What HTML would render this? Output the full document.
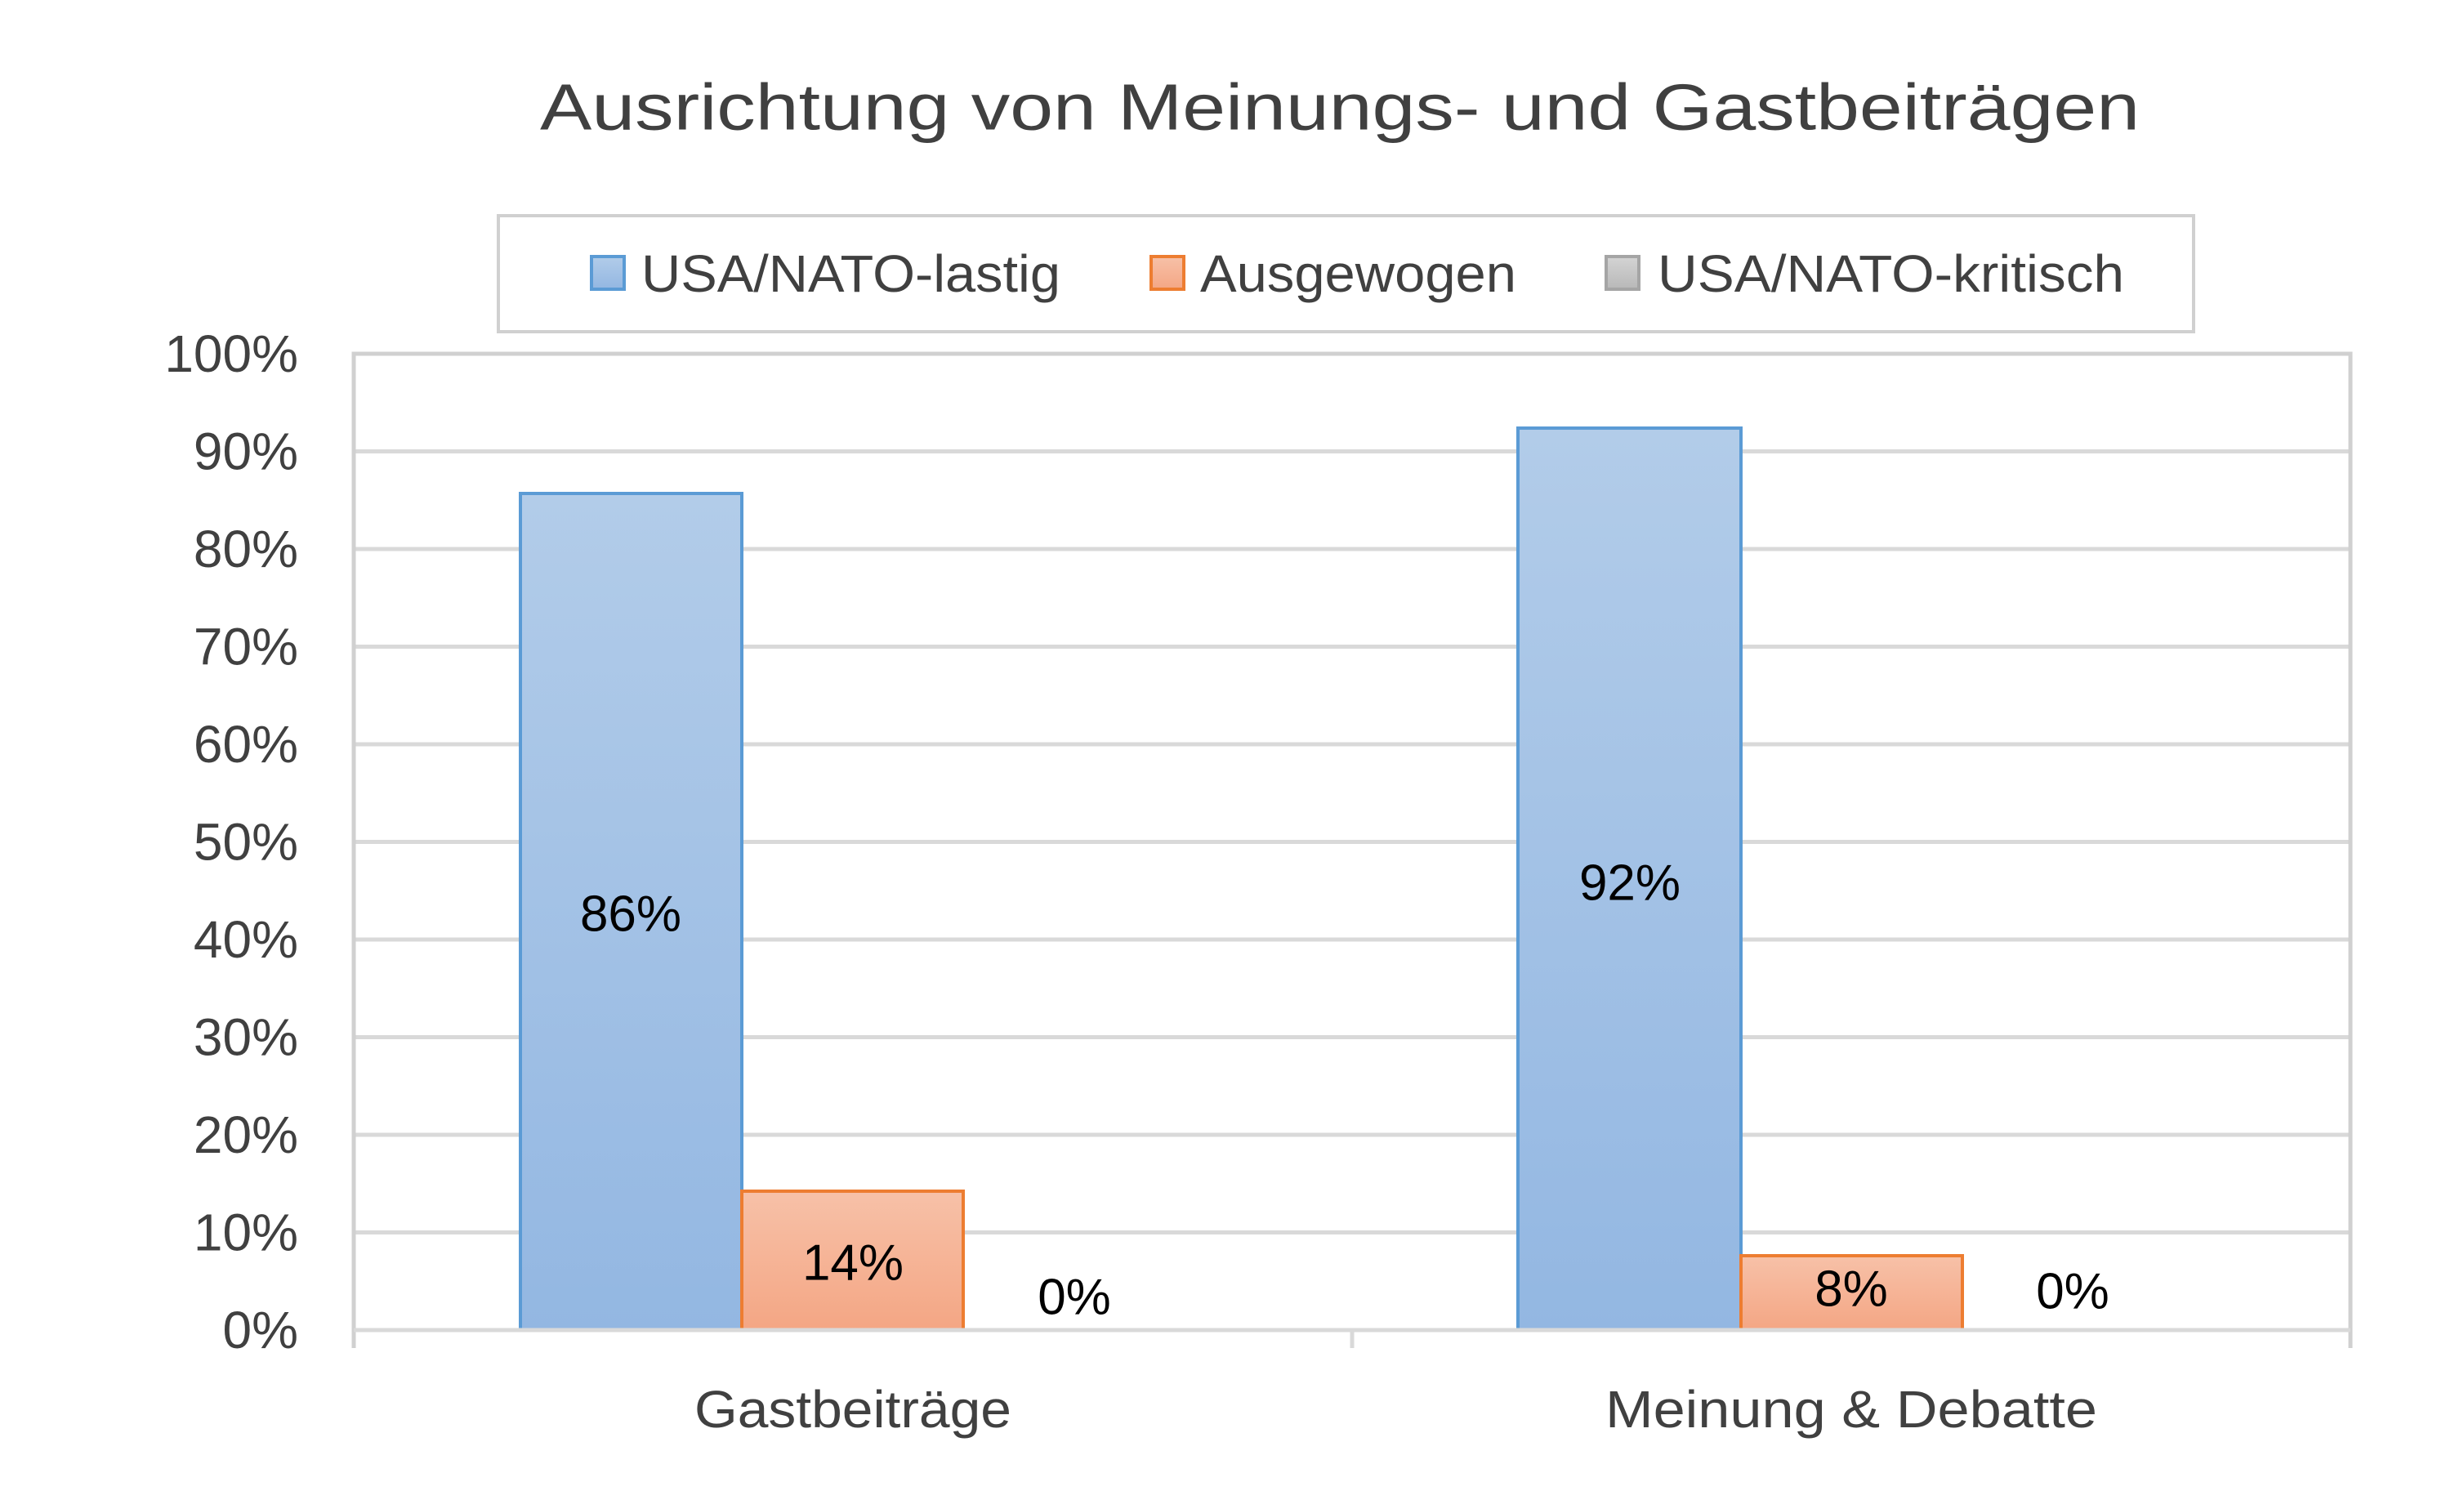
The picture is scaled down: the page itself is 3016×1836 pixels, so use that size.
<!DOCTYPE html>
<html><head><meta charset="utf-8"><style>
html,body{margin:0;padding:0;background:#fff}
svg{display:block}
text{font-family:"Liberation Sans",sans-serif}
</style></head><body>
<svg width="3016" height="1836" viewBox="0 0 3016 1836" xmlns="http://www.w3.org/2000/svg">
<defs>
<linearGradient id="gb" x1="0" y1="0" x2="0" y2="1"><stop offset="0" stop-color="#b2cce9"/><stop offset="1" stop-color="#93b7e2"/></linearGradient>
<linearGradient id="go" x1="0" y1="0" x2="0" y2="1"><stop offset="0" stop-color="#f7c1a8"/><stop offset="1" stop-color="#f4a684"/></linearGradient>
<linearGradient id="gg" x1="0" y1="0" x2="0" y2="1"><stop offset="0" stop-color="#d4d4d4"/><stop offset="1" stop-color="#b8b8b8"/></linearGradient>
</defs>
<rect width="3016" height="1836" fill="#fff"/>
<text x="1640" y="131" font-size="80" fill="#404040" text-anchor="middle" dominant-baseline="central" textLength="1958" lengthAdjust="spacingAndGlyphs">Ausrichtung von Meinungs- und Gastbeiträgen</text>
<!-- legend -->
<rect x="610" y="264" width="2075" height="142" fill="#fff" stroke="#d0d0d0" stroke-width="4"/>
<rect x="724" y="314" width="40" height="40" fill="url(#gb)" stroke="#5b9bd5" stroke-width="4"/>
<text x="785" y="335" font-size="64" fill="#404040" dominant-baseline="central" textLength="513" lengthAdjust="spacingAndGlyphs">USA/NATO-lastig</text>
<rect x="1409" y="314" width="40" height="40" fill="url(#go)" stroke="#ed7d31" stroke-width="4"/>
<text x="1469" y="335" font-size="64" fill="#404040" dominant-baseline="central" textLength="387" lengthAdjust="spacingAndGlyphs">Ausgewogen</text>
<rect x="1966" y="314" width="40" height="40" fill="url(#gg)" stroke="#a5a5a5" stroke-width="4"/>
<text x="2029" y="335" font-size="64" fill="#404040" dominant-baseline="central" textLength="571" lengthAdjust="spacingAndGlyphs">USA/NATO-kritisch</text>
<!-- grid -->
<g stroke="#d9d9d9" stroke-width="5">
<line x1="433" y1="552.5" x2="2877" y2="552.5"/>
<line x1="433" y1="672" x2="2877" y2="672"/>
<line x1="433" y1="791.5" x2="2877" y2="791.5"/>
<line x1="433" y1="911" x2="2877" y2="911"/>
<line x1="433" y1="1030.5" x2="2877" y2="1030.5"/>
<line x1="433" y1="1150" x2="2877" y2="1150"/>
<line x1="433" y1="1269.5" x2="2877" y2="1269.5"/>
<line x1="433" y1="1389" x2="2877" y2="1389"/>
<line x1="433" y1="1508.5" x2="2877" y2="1508.5"/>
</g>
<polyline points="433,1650 433,433 2877,433 2877,1650" fill="none" stroke="#d0d0d0" stroke-width="5"/>
<!-- bars -->
<rect x="637" y="604" width="271" height="1024" fill="url(#gb)" stroke="#5b9bd5" stroke-width="4"/>
<rect x="908" y="1458" width="271" height="170" fill="url(#go)" stroke="#ed7d31" stroke-width="4"/>
<rect x="1858" y="524" width="273" height="1104" fill="url(#gb)" stroke="#5b9bd5" stroke-width="4"/>
<rect x="2131" y="1537" width="271" height="91" fill="url(#go)" stroke="#ed7d31" stroke-width="4"/>
<!-- x axis -->
<g stroke="#d9d9d9" stroke-width="5">
<line x1="433" y1="1628" x2="2877" y2="1628"/>
<line x1="1655" y1="1628" x2="1655" y2="1650"/>
</g>
<!-- y labels -->
<g font-size="64" fill="#404040" text-anchor="end" dominant-baseline="central">
<text x="365" y="433">100%</text>
<text x="365" y="552.5">90%</text>
<text x="365" y="672">80%</text>
<text x="365" y="791.5">70%</text>
<text x="365" y="911">60%</text>
<text x="365" y="1030.5">50%</text>
<text x="365" y="1150">40%</text>
<text x="365" y="1269.5">30%</text>
<text x="365" y="1389">20%</text>
<text x="365" y="1508.5">10%</text>
<text x="365" y="1628">0%</text>
</g>
<!-- data labels -->
<g font-size="62" fill="#000" text-anchor="middle" dominant-baseline="central">
<text x="772" y="1119">86%</text>
<text x="1044" y="1546">14%</text>
<text x="1315" y="1588">0%</text>
<text x="1995" y="1081">92%</text>
<text x="2266" y="1578">8%</text>
<text x="2537" y="1581">0%</text>
</g>
<g font-size="64" fill="#404040" text-anchor="middle" dominant-baseline="central">
<text x="1044" y="1725" textLength="388" lengthAdjust="spacingAndGlyphs">Gastbeiträge</text>
<text x="2266" y="1725" textLength="602" lengthAdjust="spacingAndGlyphs">Meinung &amp; Debatte</text>
</g>
</svg>
</body></html>
